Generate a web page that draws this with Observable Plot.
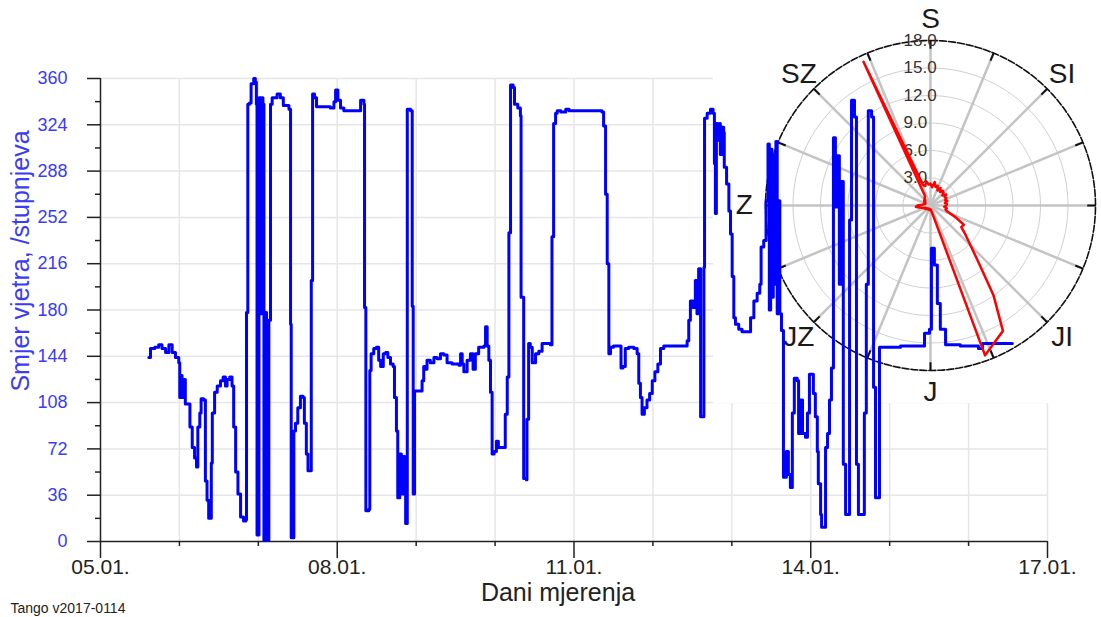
<!DOCTYPE html>
<html><head><meta charset="utf-8">
<script src="https://cdn.jsdelivr.net/npm/d3@7"></script>
<script src="https://cdn.jsdelivr.net/npm/@observablehq/plot@0.6"></script>
<style>
html,body{margin:0;padding:0;background:#fff;overflow:hidden}
#chart{position:relative;width:1101px;height:617px;overflow:hidden;background:#fff}
#chart > *{position:absolute;left:0;top:0}
#chart > #inset{left:713px;top:0;width:388px;height:403px;background:#fff}
</style></head><body><div id="chart"></div>
<script>
// ---- data ----
// wind direction samples: [hours since 05.01. 00:00, degrees]
const windSeries = [
[14.7,143],[15.2,150],[16.5,151],[17.7,153],[18.7,150],[19.8,147],[20.8,153],[21.8,147],[22.8,143],[23.8,139],[24.1,112],[24.5,129],[24.8,112],[25.3,126],[25.8,107],[26.6,107],[27.2,89],[27.9,73],[28.6,65],[29.2,58],[29.6,89],[30.2,100],[30.6,111],[31.4,110],[31.9,47],[32.4,32],[32.9,18],[33.4,18],[33.7,61],[34.0,100],[34.7,116],[35.5,121],[36.5,125],[37.3,128],[38.0,121],[38.5,126],[39.3,128],[40.0,121],[40.5,89],[41.1,54],[41.8,37],[42.6,19],[43.5,16],[44.2,17],
[44.4,178],[44.8,340],[45.3,341],[45.8,356],[46.6,360],[47.1,357],[47.4,340],[47.6,5],[48.0,5],[48.2,345],[48.7,177],[49.0,345],[49.4,340],[49.7,1],[50.2,178],[50.5,172],[50.9,1],[51.2,172],[51.7,340],[52.2,345],[53.7,348],[54.7,345],[55.6,339],[57.3,336],[57.8,169],[58.0,3],[58.6,3],[58.8,86],[59.3,92],[60.0,104],[60.8,113],[61.6,112],[62.0,92],[62.6,68],[63.1,55],[63.7,55],[64.1,203],[64.5,348],[65.1,345],[65.7,338],[69.9,337],[71.0,342],[71.5,351],[72.2,343],[73.0,337],[74.0,335],[78.6,335],[79.1,343],[80.1,340],[80.3,182],[80.7,24],[81.6,25],[81.9,133],[82.3,146],[83.1,150],[83.9,151],[84.6,141],[85.2,136],[86.0,146],[86.7,147],[87.4,143],[88.2,138],[89.0,136],[89.4,112],[90.0,86],[90.4,34],[91.0,68],[91.5,37],[92.0,66],[92.5,37],[92.8,14],[93.3,336],[94.3,335],[94.8,183],[95.1,37],[95.5,117],[96.8,117],
[97.3,117],[97.8,125],[98.3,136],[98.8,134],[99.3,141],[100.3,139],[101.4,143],[102.4,142],[103.4,146],[104.4,145],[105.4,139],[106.9,138],[109.0,137],[109.5,146],[110.0,138],[110.5,132],[111.5,141],[112.5,146],[113.3,134],[114.0,146],[115.0,151],[116.6,152],[117.1,167],[117.6,152],[118.1,141],[118.6,116],[119.1,68],[119.7,70],[120.4,78],[121.0,73],[122.8,73],[123.1,99],[123.7,128],[124.2,240],[124.7,355],[125.5,353],[125.9,340],[126.9,337],[127.7,331],[127.9,190],[128.7,49],[129.5,48],[129.7,95],[130.2,154],[130.7,151],[131.3,139],[131.8,139],[132.3,146],[133.3,148],[134.3,154],[136.8,153],[137.3,237],[137.8,325],[138.4,333],[138.9,335],[140.0,334],[141.5,336],[142.5,335],[152.5,334],[153.0,323],[153.6,270],[154.1,216],[154.6,146],[155.1,151],[156.0,152],[157.9,152],[158.3,135],[158.9,136],[159.6,150],[160.6,151],[162.2,150],[163.2,146],[163.7,123],[164.2,112],[164.7,99],[165.4,104],[166.2,110],[167.0,115],[167.8,125],[168.6,132],[169.5,138],[170.3,150],[171.3,152],[177.4,152],[178.4,156],[178.9,172],[179.4,187],[180.2,182],[180.9,203],[181.4,177],[181.9,212],[182.5,97],[183.3,97],[183.5,213],[183.7,329],[184.5,333],[185.5,336],[186.3,333],[186.7,294],[187.0,255],[187.3,325],[187.7,312],[188.3,325],[188.5,301],[189.0,322],[189.5,318],[189.7,291],[190.4,278],[191.1,257],[191.6,239],[192.1,206],[192.6,174],[193.1,169],[194.1,165],[195.1,163],[197.1,163],[197.7,174],[198.7,187],[199.7,193],[200.5,200],[200.9,229],[201.7,234],[202.4,265],
[203.0,309],[203.4,180],[203.8,305],[204.2,190],[204.6,300],[205.0,200],[205.4,311],[205.8,177],[206.2,265],[206.6,177],[207.1,164],
[207.7,50],[208.6,70],[209.2,52],[209.8,42],[210.4,100],[211.0,127],[211.9,125],[212.3,84],[212.9,110],[213.5,84],[214.4,81],[215.0,100],[215.6,130],[216.5,130],[216.8,115],[217.4,97],[218.0,70],[218.3,45],[219.0,21],[219.3,11],[219.9,11],[220.5,73],[221.1,84],[221.7,110],[222.3,135],[222.9,314],[223.5,260],[224.1,300],[224.7,200],[225.3,280],[225.9,60],[226.6,21],[227.2,21],[227.8,250],[228.4,343],[229.3,330],[229.9,60],[230.5,21],[231.7,21],[232.3,100],[232.9,200],[233.5,335],[234.5,330],[235.1,120],[235.7,34],[236.3,34],[236.9,151],
[243.3,152],[250.3,152],[250.6,162],[252.1,165],[252.7,228],[253.6,215],[254.5,185],[255.4,165],[257.0,153],[261.5,152],[267.0,150],[268.2,154],[277.3,154]
];
const xTickValues = [0, 72, 144, 216, 288];
const xTickLabels = ["05.01.", "08.01.", "11.01.", "14.01.", "17.01."];
const dayTicks = d3.range(0, 289, 24);
const yTicks = d3.range(0, 361, 36);
const yMinorTicks = d3.range(18, 360, 36);
const yTitle = "Smjer vjetra, /stupnjeva";
const xTitle = "Dani mjerenja";
const credit = "Tango v2017-0114";

// wind rose (every 5 degrees, clockwise from north)
const roseBearings = d3.range(0, 360, 5);
const roseValues = [
2.4,2.0,2.6,2.1,2.3,1.8,2.2,1.8,2.1,2.0,1.7,2.1,
1.8,1.9,1.7,1.9,1.6,1.8,1.7,1.5,1.8,1.7,2.0,3.0,
4.2,4.1,5.0,6.2,8.2,12.0,15.8,16.5,17.4,1.2,0.7,0.5,
0.5,0.4,0.5,0.4,0.5,0.4,0.5,0.4,0.5,0.5,0.6,0.5,
0.7,0.6,0.8,1.0,1.3,1.6,1.4,0.9,0.8,0.6,0.7,0.6,
0.8,0.7,0.9,0.8,1.0,1.1,1.2,17.3,2.4,2.2,2.7,2.3
];
const ringValues = [3, 6, 9, 12, 15];
const ringLabels = [3, 6, 9, 12, 15, 18];
const roseMax = 18;
// visible compass labels (the east label falls outside the picture)
const compassNames = ["S", "SI", "JI", "J", "JZ", "Z", "SZ"];
const compassBearings = [0, 45, 135, 180, 225, 270, 315];
const spokeBearings = d3.range(0, 360, 22.5);

// ---- drawing ----
const W = 1101, H = 617;
const font = "'Liberation Sans', Arial, sans-serif";
const baseStyle = {background: "transparent", overflow: "visible", fontFamily: font};
const mainFrame = {width: W, height: H, marginLeft: 100, marginRight: 54, marginTop: 78, marginBottom: 76,
  x: {domain: [0, 288], axis: null}, y: {domain: [0, 360], axis: null}};
const rad = a => a * Math.PI / 180;
const px = (r, a) => r * Math.sin(rad(a));
const py = (r, a) => r * Math.cos(rad(a));
const roseFrame = {width: W, height: H,
  x: {domain: [-roseMax, roseMax], range: [765, 1095], axis: null},
  y: {domain: [-roseMax, roseMax], range: [370, 40], axis: null}};

const chart = document.getElementById("chart");

const main = Plot.plot({...mainFrame, style: baseStyle, marks: [
  Plot.ruleX(dayTicks.slice(1), {stroke: "#e6e6e6", strokeWidth: 1.5}),
  Plot.ruleY(yTicks.slice(1), {stroke: "#e6e6e6", strokeWidth: 1.5}),
  Plot.axisY(yMinorTicks, {tickSize: 5, stroke: "#222", strokeWidth: 1.5, fill: "none", label: null}),
  Plot.axisY(yTicks, {tickSize: 13, tickPadding: 20, stroke: "#222", strokeWidth: 1.5, fill: "#3a3aff",
    fontSize: 18, fontFamily: "'Liberation Sans Narrow', 'Liberation Sans', sans-serif",
    tickFormat: d => String(d), label: null}),
  Plot.axisX(dayTicks.filter(d => !xTickValues.includes(d)), {tickSize: 5, stroke: "#222", strokeWidth: 1.5, fill: "none", label: null}),
  Plot.axisX(xTickValues, {tickSize: 17, tickPadding: 1, stroke: "#222", strokeWidth: 1.5, fill: "#222", fontSize: 21,
    tickFormat: d => xTickLabels[xTickValues.indexOf(d)], label: null}),
  Plot.ruleX([0], {stroke: "#222", strokeWidth: 1.5}),
  Plot.ruleY([0], {stroke: "#222", strokeWidth: 1.5}),
  Plot.text([yTitle], {text: d => d, frameAnchor: "left", textAnchor: "middle", rotate: -90, dx: -80, dy: -49, fontSize: 25, fill: "#3c3cf5"}),
  Plot.text([xTitle], {text: d => d, frameAnchor: "bottom", dx: -16, dy: 59, lineAnchor: "bottom", fontSize: 25, fill: "#222"}),
  Plot.text([credit], {text: d => d, frameAnchor: "bottom-left", dx: -90, dy: 71, textAnchor: "start", lineAnchor: "bottom", fontSize: 14, fill: "#222"})
]});
chart.appendChild(main);

const inset = document.createElement("div");
inset.id = "inset";
chart.appendChild(inset);

const ringPts = ringValues.flatMap(r => d3.range(0, 361, 3).map(a => ({r, a})));
const outerPts = d3.range(0, 361, 2);

const roseBg = Plot.plot({...roseFrame, style: baseStyle, marks: [
  Plot.line(ringPts, {x: d => px(d.r, d.a), y: d => py(d.r, d.a), z: "r", stroke: "#d0d0d0", strokeWidth: 1}),
  Plot.link(spokeBearings, {x1: 0, y1: 0, x2: a => px(roseMax, a), y2: a => py(roseMax, a), stroke: "#c4c4c4", strokeWidth: 2.5}),
  Plot.line(outerPts, {x: a => px(roseMax, a), y: a => py(roseMax, a), stroke: "#111", strokeWidth: 1.6, strokeDasharray: "7 2"}),
  Plot.link(spokeBearings, {x1: a => px(roseMax * 0.95, a), y1: a => py(roseMax * 0.95, a), x2: a => px(roseMax, a), y2: a => py(roseMax, a), stroke: "#111", strokeWidth: 2}),
  Plot.text(ringLabels, {x: 0, y: d => d, text: d => d.toFixed(1), dx: -27, textAnchor: "start", fontSize: 17, fill: "#333"}),
  Plot.text(compassNames, {x: (d, i) => px(20.3, compassBearings[i]), y: (d, i) => py(20.3, compassBearings[i]), text: d => d, fontSize: 28, fill: "#1a1a1a"})
]});
chart.appendChild(roseBg);

const series = windSeries.map(([h, d]) => ({h, d}));
const blue = Plot.plot({...mainFrame, style: baseStyle, marks: [
  Plot.line(series, {x: "h", y: "d", curve: "step-after", stroke: "#0000ff", strokeWidth: 3})
]});
chart.appendChild(blue);

const red = Plot.plot({...roseFrame, style: baseStyle, marks: [
  Plot.line(roseBearings, {x: (b, i) => px(roseValues[i], b), y: (b, i) => py(roseValues[i], b), curve: "linear-closed", stroke: "#ff0000", strokeWidth: 2.5})
]});
chart.appendChild(red);
</script></body></html>
